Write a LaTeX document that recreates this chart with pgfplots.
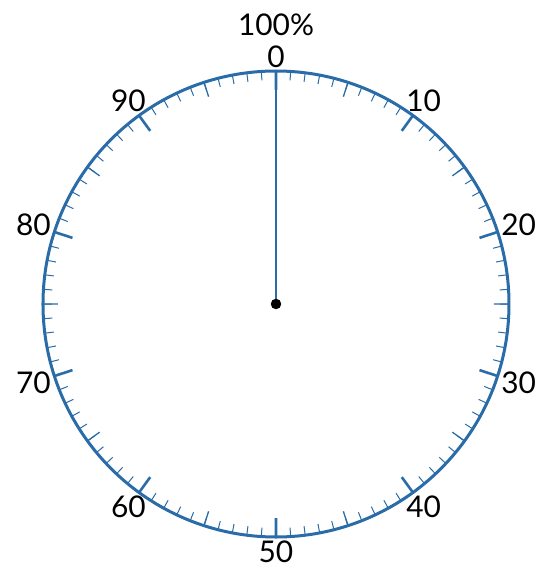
\documentclass[border=0pt]{standalone}
\usepackage{pgfplots}
\pgfplotsset{compat=1.18}
\usepgfplotslibrary{polar}
\usepackage{fontspec}
\setmainfont{Lato}
\definecolor{dialblue}{RGB}{42,108,168}

\begin{document}
\begin{tikzpicture}
\path[use as bounding box] (-276bp,-264bp) rectangle (276bp,304bp);
\begin{polaraxis}[
    at={(0,0)}, anchor=origin,
    scale only axis,
    width=466bp, height=466bp,
    xmin=0, xmax=360,
    ymin=0, ymax=233,
    grid=none,
    ytick=\empty,
    y axis line style={draw=none},
    axis line style={dialblue, line width=3bp},
    every outer x axis line/.append style={dialblue, line width=3bp},
    % angle = 90 - 3.6 * gauge value
    xtick={18,54,90,126,162,198,234,270,306,342},
    xticklabels={20,10,{100\%\\0},90,80,70,60,50,40,30},
    minor xtick={0,3.6,...,357},
    xtick align=outside,
    major tick length=0pt,
    minor tick length=9bp,
    every minor tick/.append style={dialblue, line width=1bp},
    xticklabel style={font=\fontsize{30}{32}\selectfont, align=center,
        inner sep=3.5bp, anchor=\tick+180},
    /pgf/number format/assume math mode=true,
    unbounded coords=jump,
]
% major ticks (every 10)
\addplot[dialblue, line width=2.6bp] coordinates {
    (18,233) (18,214) (nan,nan) (54,233) (54,214) (nan,nan)
    (90,233) (90,214) (nan,nan) (126,233) (126,214) (nan,nan)
    (162,233) (162,214) (nan,nan) (198,233) (198,214) (nan,nan)
    (234,233) (234,214) (nan,nan) (270,233) (270,214) (nan,nan)
    (306,233) (306,214) (nan,nan) (342,233) (342,214)};
% half ticks (every 5)
\addplot[dialblue, line width=1.3bp] coordinates {
    (0,233) (0,218) (nan,nan) (36,233) (36,218) (nan,nan)
    (72,233) (72,218) (nan,nan) (108,233) (108,218) (nan,nan)
    (144,233) (144,218) (nan,nan) (180,233) (180,218) (nan,nan)
    (216,233) (216,218) (nan,nan) (252,233) (252,218) (nan,nan)
    (288,233) (288,218) (nan,nan) (324,233) (324,218)};
% needle at 0
\addplot[dialblue, line width=1.6bp] coordinates {(90,0) (90,233)};
\addplot[black, only marks, mark=*, mark size=5bp] coordinates {(0,0)};
\end{polaraxis}
\end{tikzpicture}
\end{document}
